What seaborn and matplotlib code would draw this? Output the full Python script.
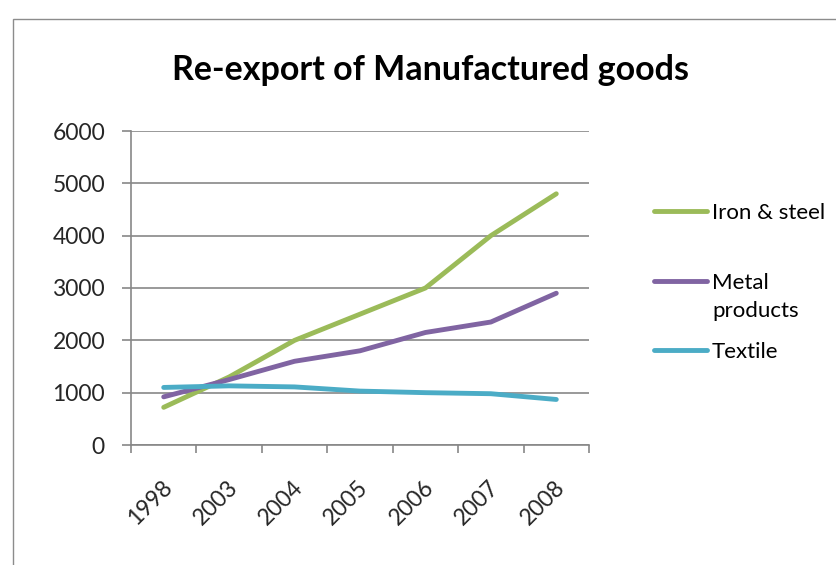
import matplotlib
matplotlib.use("Agg")
import matplotlib.pyplot as plt
import matplotlib.transforms as mtransforms
from matplotlib.lines import Line2D
from matplotlib.patches import Rectangle
import numpy as np
import pandas as pd
import seaborn as sns

# Data
years = ["1998", "2003", "2004", "2005", "2006", "2007", "2008"]
iron_steel = [720, 1300, 2000, 2500, 3000, 4000, 4800]
metal_products = [920, 1250, 1600, 1800, 2150, 2350, 2900]
textile = [1100, 1130, 1110, 1030, 1000, 980, 870]
series_names = ["Iron & steel", "Metal products", "Textile"]
legend_labels = ["Iron & steel", "Metal\nproducts", "Textile"]
colors = ["#9BBB59", "#8064A2", "#4BACC6"]
y_ticks = [0, 1000, 2000, 3000, 4000, 5000, 6000]
title = "Re-export of Manufactured goods"

df = pd.concat([
    pd.DataFrame({"pos": np.arange(len(years)), "year": years,
                  "value": vals, "series": name})
    for name, vals in zip(series_names, [iron_steel, metal_products, textile])
], ignore_index=True)

sns.set_theme(style="white")
plt.rcParams["font.family"] = ["Lato", "DejaVu Sans"]

W, H = 836, 565
PX = 0.72  # points per pixel at 100 dpi
fig = plt.figure(figsize=(W / 100, H / 100), dpi=100)
fig.patch.set_facecolor("white")

# chart-area frame
fig.add_artist(Rectangle((13 / W, -0.1), 1.2, 1.1 - 19 / H, transform=fig.transFigure,
                         fill=False, edgecolor="#8c8c8c", linewidth=1.0))

left, right, top, bottom = 131, 589, 131, 445
ax = fig.add_axes([left / W, (H - bottom) / H, (right - left) / W, (bottom - top) / H])

grid_col = "#878787"
label_size = 16.5
line_w = 3.5
sns.lineplot(data=df, x="pos", y="value", hue="series", hue_order=series_names,
             palette=colors, linewidth=line_w, legend=False, sort=False, ax=ax,
             solid_capstyle="round", zorder=3)

ax.set_xlim(-0.5, len(years) - 0.5)
ax.set_ylim(0, 6000)
ax.set_yticks(y_ticks)
ax.set_yticklabels([str(t) for t in y_ticks])
ax.yaxis.grid(True, color=grid_col, linewidth=1.2)
ax.set_axisbelow(True)
ax.set_xlabel("")
ax.set_ylabel("")

# boundaries between categories carry the tick marks; labels sit at the centres
ax.set_xticks(np.arange(-0.5, len(years), 1.0))
ax.set_xticklabels([])
ax.set_xticks(np.arange(len(years)), minor=True)
ax.set_xticklabels(years, minor=True, rotation=45, ha="right",
                   rotation_mode="anchor", va="center", fontsize=label_size)
ax.tick_params(axis="x", which="major", length=8 * PX, width=1.2, color=grid_col,
               direction="out", bottom=True)
ax.tick_params(axis="x", which="minor", length=0, pad=28)
ax.tick_params(axis="y", length=9 * PX, width=1.2, color=grid_col, direction="out",
               left=True, pad=17 * PX, labelsize=label_size)
offset = mtransforms.ScaledTranslation(5 / 100, 0, fig.dpi_scale_trans)
for lab in ax.get_xticklabels(minor=True):
    lab.set_transform(lab.get_transform() + offset)

for side in ["top", "right"]:
    ax.spines[side].set_visible(False)
for side in ["left", "bottom"]:
    ax.spines[side].set_color(grid_col)
    ax.spines[side].set_linewidth(1.2)

fig.text(431 / W, 1 - 80 / H, title, ha="center", va="baseline",
         fontsize=24.5, fontweight="bold", color="black")

# legend
legend_y = [211, 281, 350]
for y, lab, col in zip(legend_y, legend_labels, colors):
    fig.add_artist(Line2D([654 / W, 707 / W], [1 - y / H, 1 - y / H],
                          transform=fig.transFigure, color=col, linewidth=line_w,
                          solid_capstyle="round"))
    for i, line in enumerate(lab.split("\n")):
        fig.text(712 / W, 1 - (y + 8 + 28 * i) / H, line, ha="left", va="baseline",
                 fontsize=16, color="black")

fig.savefig("out.png", dpi=100)
